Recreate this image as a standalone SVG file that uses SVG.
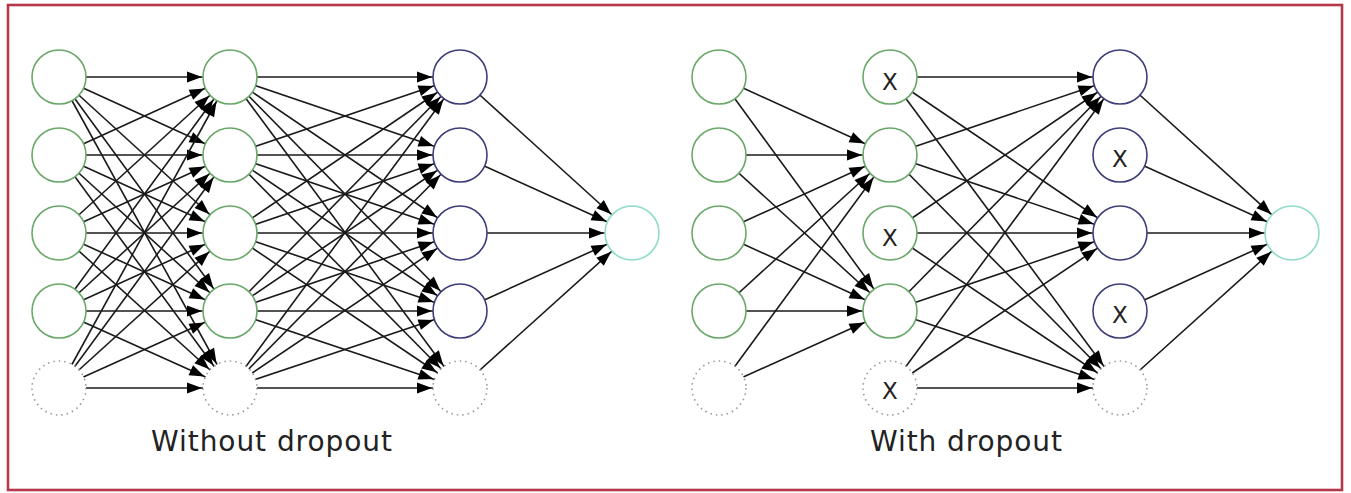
<svg xmlns="http://www.w3.org/2000/svg" width="1351" height="493" viewBox="0 0 1351 493">
<style>
.e{stroke:#1a1a1a;stroke-width:1.6;fill:none;marker-end:url(#ah)}
.g{fill:#fff;stroke:#6aa86a;stroke-width:1.6}
.b{fill:#fff;stroke:#3d3d7a;stroke-width:1.6}
.o{fill:#fff;stroke:#8fdcc8;stroke-width:1.6}
.d{fill:#fff;stroke:#9a9a9a;stroke-width:1.6;stroke-dasharray:1.5 4}
.x{font-family:"DejaVu Sans",sans-serif;font-size:23px;fill:#222;text-anchor:middle}
.t{font-family:"DejaVu Sans",sans-serif;font-size:28px;fill:#222}
</style>
<defs>
<marker id="ah" markerUnits="userSpaceOnUse" markerWidth="60" markerHeight="20" viewBox="-50 -10 60 20" refX="0" refY="0" orient="auto" overflow="visible">
<path d="M-43,-5.5 L-28,0 L-43,5.5 z" fill="#000"/>
</marker>
</defs>
<rect width="1351" height="493" fill="#fff"/>
<rect x="8" y="5" width="1334" height="485" fill="none" stroke="#b5384a" stroke-width="2.6"/>
<g id="connectors">
<!-- left L1->L2 -->
<line class="e" x1="59" y1="77" x2="230" y2="77"/><line class="e" x1="59" y1="77" x2="230" y2="155"/><line class="e" x1="59" y1="77" x2="230" y2="233"/><line class="e" x1="59" y1="77" x2="230" y2="311"/><line class="e" x1="59" y1="77" x2="230" y2="388"/>
<line class="e" x1="59" y1="155" x2="230" y2="77"/><line class="e" x1="59" y1="155" x2="230" y2="155"/><line class="e" x1="59" y1="155" x2="230" y2="233"/><line class="e" x1="59" y1="155" x2="230" y2="311"/><line class="e" x1="59" y1="155" x2="230" y2="388"/>
<line class="e" x1="59" y1="233" x2="230" y2="77"/><line class="e" x1="59" y1="233" x2="230" y2="155"/><line class="e" x1="59" y1="233" x2="230" y2="233"/><line class="e" x1="59" y1="233" x2="230" y2="311"/><line class="e" x1="59" y1="233" x2="230" y2="388"/>
<line class="e" x1="59" y1="311" x2="230" y2="77"/><line class="e" x1="59" y1="311" x2="230" y2="155"/><line class="e" x1="59" y1="311" x2="230" y2="233"/><line class="e" x1="59" y1="311" x2="230" y2="311"/><line class="e" x1="59" y1="311" x2="230" y2="388"/>
<line class="e" x1="59" y1="388" x2="230" y2="77"/><line class="e" x1="59" y1="388" x2="230" y2="155"/><line class="e" x1="59" y1="388" x2="230" y2="233"/><line class="e" x1="59" y1="388" x2="230" y2="311"/><line class="e" x1="59" y1="388" x2="230" y2="388"/>
<!-- left L2->L3 -->
<line class="e" x1="230" y1="77" x2="460" y2="77"/><line class="e" x1="230" y1="77" x2="460" y2="155"/><line class="e" x1="230" y1="77" x2="460" y2="233"/><line class="e" x1="230" y1="77" x2="460" y2="311"/><line class="e" x1="230" y1="77" x2="460" y2="388"/>
<line class="e" x1="230" y1="155" x2="460" y2="77"/><line class="e" x1="230" y1="155" x2="460" y2="155"/><line class="e" x1="230" y1="155" x2="460" y2="233"/><line class="e" x1="230" y1="155" x2="460" y2="311"/><line class="e" x1="230" y1="155" x2="460" y2="388"/>
<line class="e" x1="230" y1="233" x2="460" y2="77"/><line class="e" x1="230" y1="233" x2="460" y2="155"/><line class="e" x1="230" y1="233" x2="460" y2="233"/><line class="e" x1="230" y1="233" x2="460" y2="311"/><line class="e" x1="230" y1="233" x2="460" y2="388"/>
<line class="e" x1="230" y1="311" x2="460" y2="77"/><line class="e" x1="230" y1="311" x2="460" y2="155"/><line class="e" x1="230" y1="311" x2="460" y2="233"/><line class="e" x1="230" y1="311" x2="460" y2="311"/><line class="e" x1="230" y1="311" x2="460" y2="388"/>
<line class="e" x1="230" y1="388" x2="460" y2="77"/><line class="e" x1="230" y1="388" x2="460" y2="155"/><line class="e" x1="230" y1="388" x2="460" y2="233"/><line class="e" x1="230" y1="388" x2="460" y2="311"/><line class="e" x1="230" y1="388" x2="460" y2="388"/>
<!-- left L3->out -->
<line class="e" x1="460" y1="77" x2="632" y2="233"/><line class="e" x1="460" y1="155" x2="632" y2="233"/><line class="e" x1="460" y1="233" x2="632" y2="233"/><line class="e" x1="460" y1="311" x2="632" y2="233"/><line class="e" x1="460" y1="388" x2="632" y2="233"/>
<!-- right R1->R2 -->
<line class="e" x1="719" y1="77" x2="890" y2="155"/><line class="e" x1="719" y1="77" x2="890" y2="311"/>
<line class="e" x1="719" y1="155" x2="890" y2="155"/><line class="e" x1="719" y1="155" x2="890" y2="311"/>
<line class="e" x1="719" y1="233" x2="890" y2="155"/><line class="e" x1="719" y1="233" x2="890" y2="311"/>
<line class="e" x1="719" y1="311" x2="890" y2="155"/><line class="e" x1="719" y1="311" x2="890" y2="311"/>
<line class="e" x1="719" y1="388" x2="890" y2="155"/><line class="e" x1="719" y1="388" x2="890" y2="311"/>
<!-- right R2->R3 -->
<line class="e" x1="890" y1="77" x2="1120" y2="77"/><line class="e" x1="890" y1="77" x2="1120" y2="233"/><line class="e" x1="890" y1="77" x2="1120" y2="388"/>
<line class="e" x1="890" y1="155" x2="1120" y2="77"/><line class="e" x1="890" y1="155" x2="1120" y2="233"/><line class="e" x1="890" y1="155" x2="1120" y2="388"/>
<line class="e" x1="890" y1="233" x2="1120" y2="77"/><line class="e" x1="890" y1="233" x2="1120" y2="233"/><line class="e" x1="890" y1="233" x2="1120" y2="388"/>
<line class="e" x1="890" y1="311" x2="1120" y2="77"/><line class="e" x1="890" y1="311" x2="1120" y2="233"/><line class="e" x1="890" y1="311" x2="1120" y2="388"/>
<line class="e" x1="890" y1="388" x2="1120" y2="77"/><line class="e" x1="890" y1="388" x2="1120" y2="233"/><line class="e" x1="890" y1="388" x2="1120" y2="388"/>
<!-- right R3->out -->
<line class="e" x1="1120" y1="77" x2="1292" y2="233"/><line class="e" x1="1120" y1="155" x2="1292" y2="233"/><line class="e" x1="1120" y1="233" x2="1292" y2="233"/><line class="e" x1="1120" y1="311" x2="1292" y2="233"/><line class="e" x1="1120" y1="388" x2="1292" y2="233"/>
</g>
<!-- left network nodes -->
<g id="L1a"><circle class="g" cx="59" cy="77" r="27"/></g>
<g id="L1b"><circle class="g" cx="59" cy="155" r="27"/></g>
<g id="L1c"><circle class="g" cx="59" cy="233" r="27"/></g>
<g id="L1d"><circle class="g" cx="59" cy="311" r="27"/></g>
<g id="L1bias"><circle class="d" cx="59" cy="388" r="27"/></g>
<g id="L2a"><circle class="g" cx="230" cy="77" r="27"/></g>
<g id="L2b"><circle class="g" cx="230" cy="155" r="27"/></g>
<g id="L2c"><circle class="g" cx="230" cy="233" r="27"/></g>
<g id="L2d"><circle class="g" cx="230" cy="311" r="27"/></g>
<g id="L2bias"><circle class="d" cx="230" cy="388" r="27"/></g>
<g id="L3a"><circle class="b" cx="460" cy="77" r="27"/></g>
<g id="L3b"><circle class="b" cx="460" cy="155" r="27"/></g>
<g id="L3c"><circle class="b" cx="460" cy="233" r="27"/></g>
<g id="L3d"><circle class="b" cx="460" cy="311" r="27"/></g>
<g id="L3bias"><circle class="d" cx="460" cy="388" r="27"/></g>
<g id="Lout"><circle class="o" cx="632" cy="233" r="27"/></g>
<!-- right network nodes -->
<g id="R1a"><circle class="g" cx="719" cy="77" r="27"/></g>
<g id="R1b"><circle class="g" cx="719" cy="155" r="27"/></g>
<g id="R1c"><circle class="g" cx="719" cy="233" r="27"/></g>
<g id="R1d"><circle class="g" cx="719" cy="311" r="27"/></g>
<g id="R1bias"><circle class="d" cx="719" cy="388" r="27"/></g>
<g id="R2a"><circle class="g" cx="890" cy="77" r="27"/><text class="x" x="890" y="90">X</text></g>
<g id="R2b"><circle class="g" cx="890" cy="155" r="27"/></g>
<g id="R2c"><circle class="g" cx="890" cy="233" r="27"/><text class="x" x="890" y="246">X</text></g>
<g id="R2d"><circle class="g" cx="890" cy="311" r="27"/></g>
<g id="R2bias"><circle class="d" cx="890" cy="388" r="27"/><text class="x" x="890" y="399">X</text></g>
<g id="R3a"><circle class="b" cx="1120" cy="77" r="27"/></g>
<g id="R3b"><circle class="b" cx="1120" cy="155" r="27"/><text class="x" x="1120" y="167">X</text></g>
<g id="R3c"><circle class="b" cx="1120" cy="233" r="27"/></g>
<g id="R3d"><circle class="b" cx="1120" cy="311" r="27"/><text class="x" x="1120" y="323">X</text></g>
<g id="R3bias"><circle class="d" cx="1120" cy="388" r="27"/></g>
<g id="Rout"><circle class="o" cx="1292" cy="233" r="27"/></g>
<text class="t" x="151" y="451" textLength="241" lengthAdjust="spacing">Without dropout</text>
<text class="t" x="870" y="451" textLength="192" lengthAdjust="spacing">With dropout</text>
</svg>
